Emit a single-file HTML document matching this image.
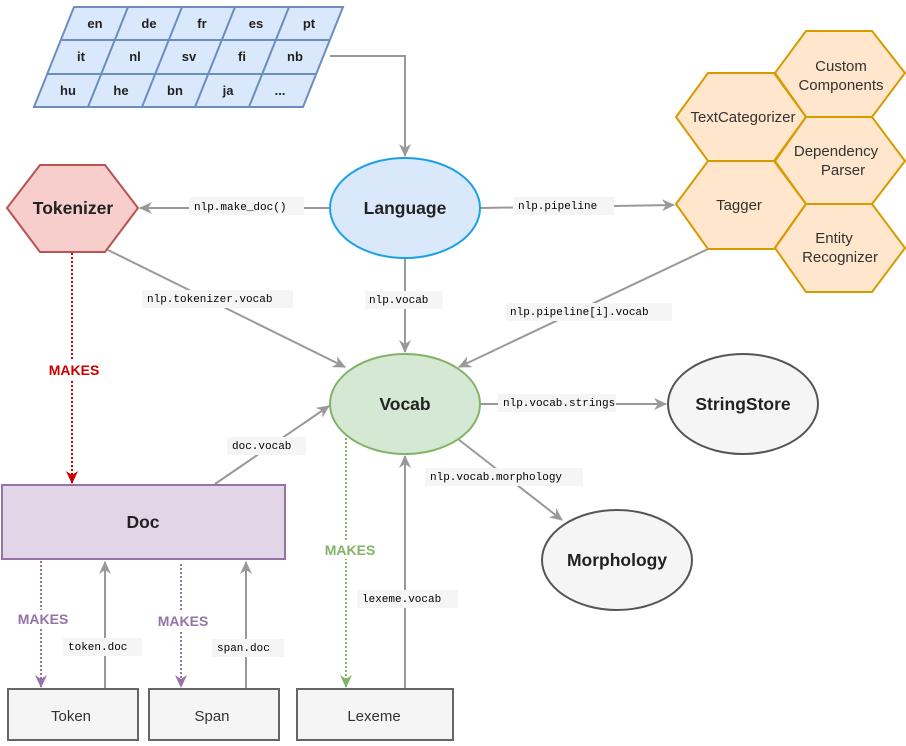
<!DOCTYPE html>
<html><head><meta charset="utf-8"><style>
html,body{margin:0;padding:0;background:#fff;width:906px;height:746px;overflow:hidden}
svg{display:block}
.m{font-family:"Liberation Mono",monospace;font-size:11px;fill:#000}
.b{font-family:"Liberation Sans",sans-serif;font-weight:bold}
.r{font-family:"Liberation Sans",sans-serif}
</style></head><body>
<svg width="906" height="746" viewBox="0 0 906 746" xmlns="http://www.w3.org/2000/svg">
<defs>
<marker id="ag" markerWidth="14" markerHeight="14" refX="12" refY="7" orient="auto" markerUnits="userSpaceOnUse"><path d="M0,1 L13,7 L0,13 L4,7 Z" fill="#999"/></marker>
<marker id="ar" markerWidth="14" markerHeight="14" refX="12" refY="7" orient="auto" markerUnits="userSpaceOnUse"><path d="M0,1 L13,7 L0,13 L4,7 Z" fill="#cc0000"/></marker>
<marker id="ap" markerWidth="14" markerHeight="14" refX="12" refY="7" orient="auto" markerUnits="userSpaceOnUse"><path d="M0,1 L13,7 L0,13 L4,7 Z" fill="#9673a6"/></marker>
<marker id="agr" markerWidth="14" markerHeight="14" refX="12" refY="7" orient="auto" markerUnits="userSpaceOnUse"><path d="M0,1 L13,7 L0,13 L4,7 Z" fill="#82b366"/></marker>
</defs>

<g fill="#dae8fc" stroke="#6c8ebf" stroke-width="2">
<polygon points="74,7 343,7 303,107 34,107"/>
</g>
<g stroke="#6c8ebf" stroke-width="2">
<line x1="61" y1="40" x2="330" y2="40"/>
<line x1="48" y1="74" x2="317" y2="74"/>
<line x1="128" y1="7" x2="88" y2="107"/>
<line x1="182" y1="7" x2="142" y2="107"/>
<line x1="235" y1="7" x2="195" y2="107"/>
<line x1="289" y1="7" x2="249" y2="107"/>
</g>
<g class="b" font-size="13" fill="#222" text-anchor="middle">
<text x="95" y="28">en</text><text x="149" y="28">de</text><text x="202" y="28">fr</text><text x="256" y="28">es</text><text x="309" y="28">pt</text>
<text x="81" y="61">it</text><text x="135" y="61">nl</text><text x="189" y="61">sv</text><text x="242" y="61">fi</text><text x="295" y="61">nb</text>
<text x="68" y="95">hu</text><text x="121" y="95">he</text><text x="175" y="95">bn</text><text x="228" y="95">ja</text><text x="280" y="95">...</text>
</g>

<g stroke="#999" stroke-width="2" fill="none">
<polyline points="330,56 405,56 405,156" marker-end="url(#ag)"/>
<line x1="330" y1="208" x2="140" y2="208" marker-end="url(#ag)"/>
<line x1="480" y1="208" x2="674" y2="205" marker-end="url(#ag)"/>
<line x1="108" y1="250" x2="345" y2="367" marker-end="url(#ag)"/>
<line x1="405" y1="258" x2="405" y2="352" marker-end="url(#ag)"/>
<line x1="708" y1="249" x2="459" y2="367" marker-end="url(#ag)"/>
<line x1="215" y1="484" x2="329" y2="406" marker-end="url(#ag)"/>
<line x1="480" y1="404" x2="666" y2="404" marker-end="url(#ag)"/>
<line x1="458" y1="439" x2="562" y2="520" marker-end="url(#ag)"/>
<line x1="405" y1="689" x2="405" y2="456" marker-end="url(#ag)"/>
<line x1="105" y1="689" x2="105" y2="562" marker-end="url(#ag)"/>
<line x1="246" y1="689" x2="246" y2="562" marker-end="url(#ag)"/>
</g>
<line x1="72" y1="253" x2="72" y2="483" stroke="#cc0000" stroke-width="2" stroke-dasharray="2,2" marker-end="url(#ar)"/>
<line x1="346" y1="438" x2="346" y2="687" stroke="#82b366" stroke-width="2" stroke-dasharray="2,2" marker-end="url(#agr)"/>
<line x1="41" y1="561" x2="41" y2="687" stroke="#9673a6" stroke-width="2" stroke-dasharray="2,2" marker-end="url(#ap)"/>
<line x1="181" y1="564" x2="181" y2="687" stroke="#9673a6" stroke-width="2" stroke-dasharray="2,2" marker-end="url(#ap)"/>

<g fill="#f5f5f5">
<rect x="189" y="197" width="115" height="18"/>
<rect x="513" y="197" width="101" height="18"/>
<rect x="142" y="290" width="151" height="18"/>
<rect x="365" y="291" width="78" height="18"/>
<rect x="506" y="303" width="166" height="18"/>
<rect x="227" y="437" width="79" height="18"/>
<rect x="498" y="394" width="118" height="18"/>
<rect x="425" y="468" width="158" height="18"/>
<rect x="357" y="590" width="101" height="18"/>
<rect x="63" y="638" width="79" height="18"/>
<rect x="212" y="639" width="72" height="18"/>
</g>
<text class="m" x="194" y="210">nlp.make_doc()</text>
<text class="m" x="518" y="209">nlp.pipeline</text>
<text class="m" x="147" y="302">nlp.tokenizer.vocab</text>
<text class="m" x="369" y="303">nlp.vocab</text>
<text class="m" x="510" y="315">nlp.pipeline[i].vocab</text>
<text class="m" x="232" y="449">doc.vocab</text>
<text class="m" x="503" y="406">nlp.vocab.strings</text>
<text class="m" x="430" y="480">nlp.vocab.morphology</text>
<text class="m" x="362" y="602">lexeme.vocab</text>
<text class="m" x="68" y="650">token.doc</text>
<text class="m" x="217" y="651">span.doc</text>

<rect x="46" y="361" width="56" height="18" fill="#fff"/>
<text class="b" font-size="14" fill="#cc0000" x="74" y="375" text-anchor="middle">MAKES</text>
<rect x="322" y="541" width="56" height="18" fill="#fff"/>
<text class="b" font-size="14" fill="#82b366" x="350" y="555" text-anchor="middle">MAKES</text>
<rect x="15" y="610" width="56" height="18" fill="#fff"/>
<text class="b" font-size="14" fill="#9673a6" x="43" y="624" text-anchor="middle">MAKES</text>
<rect x="155" y="612" width="56" height="18" fill="#fff"/>
<text class="b" font-size="14" fill="#9673a6" x="183" y="626" text-anchor="middle">MAKES</text>

<polygon points="7,208 40,165 105,165 138,208 105,252 40,252" fill="#f8cecc" stroke="#b85450" stroke-width="2"/>
<text class="b" font-size="17.5" x="73" y="214" text-anchor="middle" fill="#222">Tokenizer</text>

<ellipse cx="405" cy="208" rx="75" ry="50" fill="#dae8fc" stroke="#1ba1e2" stroke-width="2"/>
<text class="b" font-size="17.5" x="405" y="214" text-anchor="middle" fill="#222">Language</text>

<ellipse cx="405" cy="404" rx="75" ry="50" fill="#d5e8d4" stroke="#82b366" stroke-width="2"/>
<text class="b" font-size="17.5" x="405" y="410" text-anchor="middle" fill="#222">Vocab</text>

<ellipse cx="743" cy="404" rx="75" ry="50" fill="#f5f5f5" stroke="#555" stroke-width="2"/>
<text class="b" font-size="17.5" x="743" y="410" text-anchor="middle" fill="#222">StringStore</text>

<ellipse cx="617" cy="560" rx="75" ry="50" fill="#f5f5f5" stroke="#555" stroke-width="2"/>
<text class="b" font-size="17.5" x="617" y="566" text-anchor="middle" fill="#222">Morphology</text>

<rect x="2" y="485" width="283" height="74" fill="#e1d5e7" stroke="#9673a6" stroke-width="2"/>
<text class="b" font-size="17.5" x="143" y="528" text-anchor="middle" fill="#222">Doc</text>

<g fill="#f5f5f5" stroke="#666" stroke-width="2">
<rect x="8" y="689" width="130" height="51"/>
<rect x="149" y="689" width="130" height="51"/>
<rect x="297" y="689" width="156" height="51"/>
</g>
<g class="r" font-size="15" fill="#333" text-anchor="middle">
<text x="71" y="721">Token</text>
<text x="212" y="721">Span</text>
<text x="374" y="721">Lexeme</text>
</g>

<g fill="#ffe6cc" stroke="#d79b00" stroke-width="2">
<polygon points="775,73 806,31 872,31 905,73 872,117 806,117"/>
<polygon points="676,117 708,73 774,73 806,117 774,161 708,161"/>
<polygon points="775,161 806,117 872,117 905,161 872,204 806,204"/>
<polygon points="676,204 708,161 774,161 806,204 774,249 708,249"/>
<polygon points="775,248 806,204 872,204 905,248 872,292 806,292"/>
</g>
<g class="r" font-size="15" fill="#333" text-anchor="middle">
<text x="841" y="71">Custom</text><text x="841" y="90">Components</text>
<text x="743" y="122">TextCategorizer</text>
<text x="836" y="156">Dependency</text><text x="843" y="175">Parser</text>
<text x="739" y="210">Tagger</text>
<text x="834" y="243">Entity</text><text x="840" y="262">Recognizer</text>
</g>
</svg>
</body></html>
